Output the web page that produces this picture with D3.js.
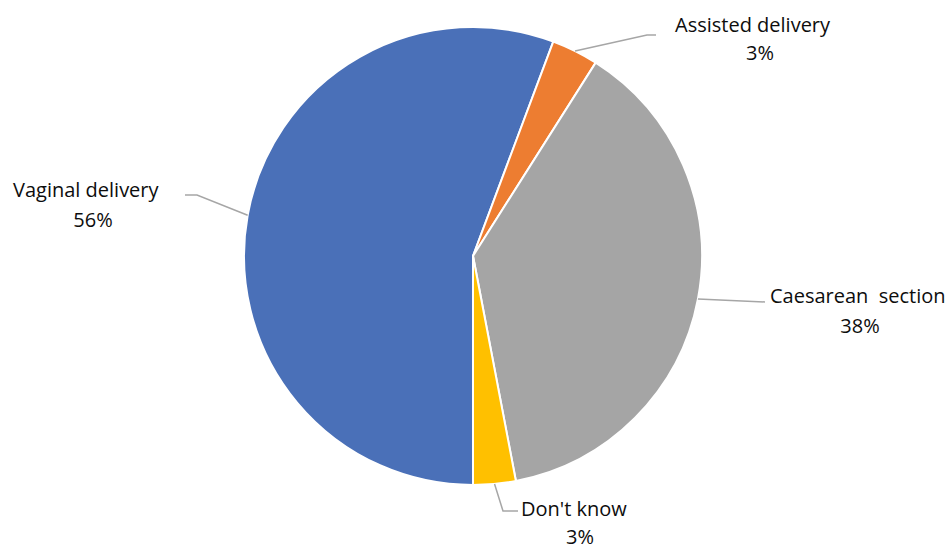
<!DOCTYPE html>
<html><head><meta charset="utf-8">
<script src="https://cdn.jsdelivr.net/npm/d3@7"></script>
<style>body{margin:0;background:#fff}svg{display:block}text{font-family:"Open Sans",sans-serif;font-size:20px;fill:#0d0d0d;white-space:pre}</style>
</head><body>
<svg id="c" width="947" height="550"></svg>
<script>
const categories = ["Vaginal delivery", "Assisted delivery", "Caesarean  section", "Don't know"];
const values = [55.7, 3.3, 38.0, 3.0];
const pctLabels = ["56%", "3%", "38%", "3%"];
const colors = ["#4a70b8", "#ed7d31", "#a5a5a5", "#ffc000"];

const svg = d3.select("#c");
const cx = 473, cy = 256, r = 229;
const g = svg.append("g").attr("transform", `translate(${cx},${cy})`);
const pie = d3.pie().sort(null).value(d => d).startAngle(Math.PI).endAngle(3 * Math.PI);
const arcs = pie(values);
const arc = d3.arc().innerRadius(0).outerRadius(r);
g.selectAll("path").data(arcs).enter().append("path")
  .attr("d", arc).attr("fill", (d, i) => colors[i])
  .attr("stroke", "#fff").attr("stroke-width", 2).attr("stroke-linejoin", "round");

// label layout (page coordinates)
const labelCfg = [
  {elbow: [197, 195], end: [185, 195], tx: 13, ty: 197, px: 93, py: 227},
  {elbow: [647, 35], end: [656, 35], tx: 675, ty: 32, px: 760, py: 60},
  {elbow: [765, 302], end: [765, 302], tx: 770, ty: 303, px: 860, py: 333},
  {elbow: [503, 511], end: [518, 511], tx: 521, ty: 516, px: 580, py: 544}
];
const lineArc = d3.arc().innerRadius(r).outerRadius(r);
arcs.forEach((d, i) => {
  const c = labelCfg[i];
  const p = lineArc.centroid(d);
  const p0 = [p[0] + cx, p[1] + cy];
  svg.append("polyline")
    .attr("points", [p0, c.elbow, c.end].map(q => q.join(",")).join(" "))
    .attr("fill", "none").attr("stroke", "#a6a6a6").attr("stroke-width", 1.5);
  svg.append("text").attr("x", c.tx).attr("y", c.ty).attr("text-anchor", "start").text(categories[i]);
  svg.append("text").attr("x", c.px).attr("y", c.py).attr("text-anchor", "middle").text(pctLabels[i]);
});
</script>
</body></html>
